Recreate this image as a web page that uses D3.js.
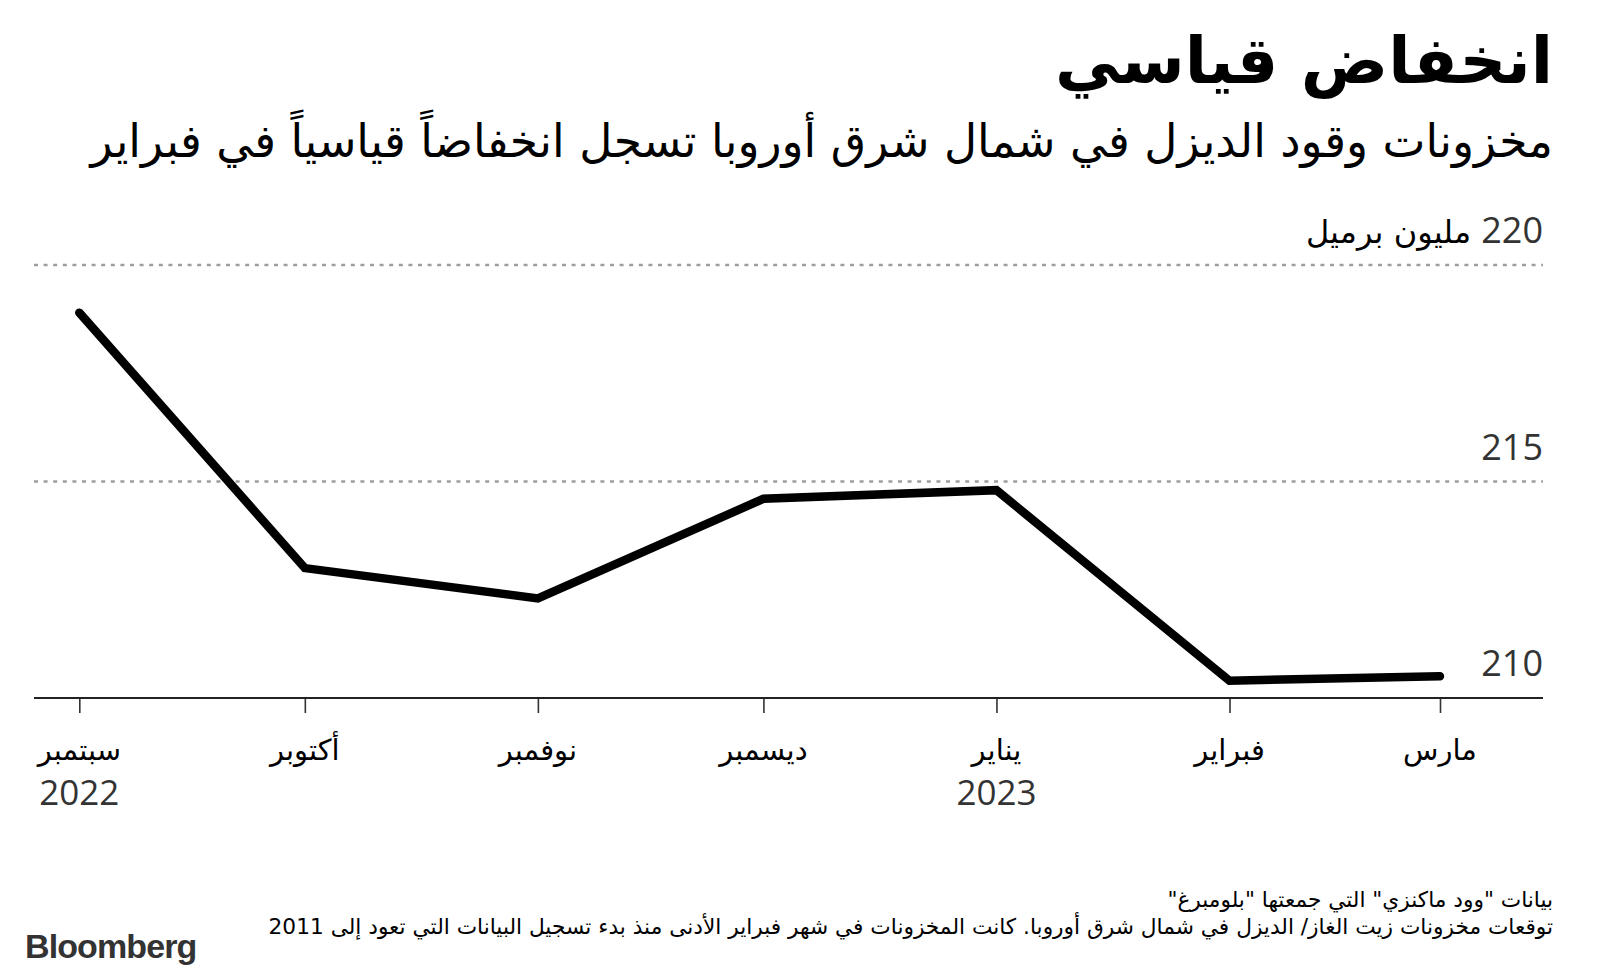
<!DOCTYPE html>
<html>
<head>
<meta charset="utf-8">
<script src="https://cdn.jsdelivr.net/npm/d3@7"></script>
<style>
  html, body { margin: 0; padding: 0; background: #fff; }
  svg { display: block; }
</style>
</head>
<body>
<script>
// ---- data ----
const dates = ["2022-09-01", "2022-10-01", "2022-11-01", "2022-12-01", "2023-01-01", "2023-02-01", "2023-03-01"];
const values = [218.9, 213.0, 212.3, 214.6, 214.8, 210.4, 210.5];
const monthLabels = ["سبتمبر", "أكتوبر", "نوفمبر", "ديسمبر", "يناير", "فبراير", "مارس"];
const yearLabels = ["2022", "", "", "", "2023", "", ""];
const yTicks = [210, 215, 220];
const unitLabel = "مليون برميل";
const title = "انخفاض قياسي";
const subtitle = "مخزونات وقود الديزل في شمال شرق أوروبا تسجل انخفاضاً قياسياً في فبراير";
const note1 = "بيانات \"وود ماكنزي\" التي جمعتها \"بلومبرغ\"";
const note2 = "توقعات مخزونات زيت الغاز/ الديزل في شمال شرق أوروبا. كانت المخزونات في شهر فبراير الأدنى منذ بدء تسجيل البيانات التي تعود إلى 2011";

const W = 1600, H = 978;
const parse = d3.utcParse("%Y-%m-%d");
const data = dates.map((d, i) => ({ date: parse(d), value: values[i], month: monthLabels[i], year: yearLabels[i] }));

const svg = d3.select("body").append("svg").attr("width", W).attr("height", H);
svg.append("rect").attr("width", W).attr("height", H).attr("fill", "#fff");

const FONT = "'Open Sans', 'DejaVu Sans', sans-serif";
const AR = "'DejaVu Sans', 'Noto Sans', sans-serif";

const plotLeft = 34, plotRight = 1543;
const x = d3.scaleUtc().domain([parse(dates[0]), parse(dates[dates.length - 1])]).range([79.3, 1440]);
const y = d3.scaleLinear().domain([210, 220]).range([698, 265]);

// title & subtitle
svg.append("text").attr("x", 1553).attr("y", 83)
  .attr("direction", "rtl").attr("text-anchor", "start")
  .attr("font-family", AR).attr("font-weight", "bold").attr("font-size", 65)
  .attr("fill", "#000").text(title);
svg.append("text").attr("x", 1553).attr("y", 157)
  .attr("direction", "rtl").attr("text-anchor", "start")
  .attr("font-family", AR).attr("font-size", 45.6)
  .attr("fill", "#000").text(subtitle);

// gridlines
const grid = svg.append("g");
yTicks.filter(t => t !== 210).forEach(t => {
  grid.append("line").attr("x1", plotLeft).attr("x2", plotRight)
    .attr("y1", y(t)).attr("y2", y(t))
    .attr("stroke", "#9e9e9e").attr("stroke-width", 2.5).attr("stroke-dasharray", "4,5.6");
});

// y labels
yTicks.forEach(t => {
  const tx = svg.append("text").attr("x", plotRight).attr("y", y(t) - 22)
    .attr("direction", "rtl").attr("text-anchor", "start")
    .attr("font-family", FONT).attr("font-size", 36);
  tx.append("tspan").attr("fill", "#333").text(String(t));
  if (t === 220) tx.append("tspan").attr("fill", "#000").attr("font-family", AR).attr("font-size", 32).text(" " + unitLabel);
});

// x axis ticks
const xAxis = d3.axisBottom(x).tickValues(data.map(d => d.date)).tickSize(15).tickSizeOuter(0).tickFormat("");
const gx = svg.append("g").attr("transform", `translate(0,${y(210)})`).call(xAxis);
gx.select(".domain").remove();
gx.selectAll(".tick line").attr("stroke", "#333").attr("stroke-width", 1.6);

// baseline
svg.append("line").attr("x1", plotLeft).attr("x2", plotRight)
  .attr("y1", y(210)).attr("y2", y(210)).attr("stroke", "#222").attr("stroke-width", 2);

// month & year labels
svg.append("g").selectAll("text.month").data(data).join("text")
  .attr("class", "month")
  .attr("x", d => x(d.date)).attr("y", 760)
  .attr("text-anchor", "middle").attr("direction", "rtl")
  .attr("font-family", AR).attr("font-size", 29).attr("fill", "#000")
  .text(d => d.month);
svg.append("g").selectAll("text.year").data(data.filter(d => d.year)).join("text")
  .attr("class", "year")
  .attr("x", d => x(d.date)).attr("y", 805)
  .attr("text-anchor", "middle")
  .attr("font-family", FONT).attr("font-size", 35).attr("fill", "#333")
  .text(d => d.year);

// line
const line = d3.line().x(d => x(d.date)).y(d => y(d.value));
svg.append("path").datum(data).attr("d", line)
  .attr("fill", "none").attr("stroke", "#000").attr("stroke-width", 8.5)
  .attr("stroke-linecap", "round").attr("stroke-linejoin", "miter");

// notes
svg.append("text").attr("x", 1553).attr("y", 907)
  .attr("direction", "rtl").attr("text-anchor", "start")
  .attr("font-family", AR).attr("font-size", 21.7).attr("fill", "#000").text(note1);
svg.append("text").attr("x", 1553).attr("y", 934)
  .attr("direction", "rtl").attr("text-anchor", "start")
  .attr("font-family", AR).attr("font-size", 21.7).attr("fill", "#000").text(note2);

// logo
svg.append("text").attr("x", 25).attr("y", 958)
  .attr("font-family", "'Liberation Sans', Arial, sans-serif").attr("font-weight", "bold")
  .attr("font-size", 34).attr("letter-spacing", -0.9).attr("fill", "#333").text("Bloomberg");
</script>
</body>
</html>
